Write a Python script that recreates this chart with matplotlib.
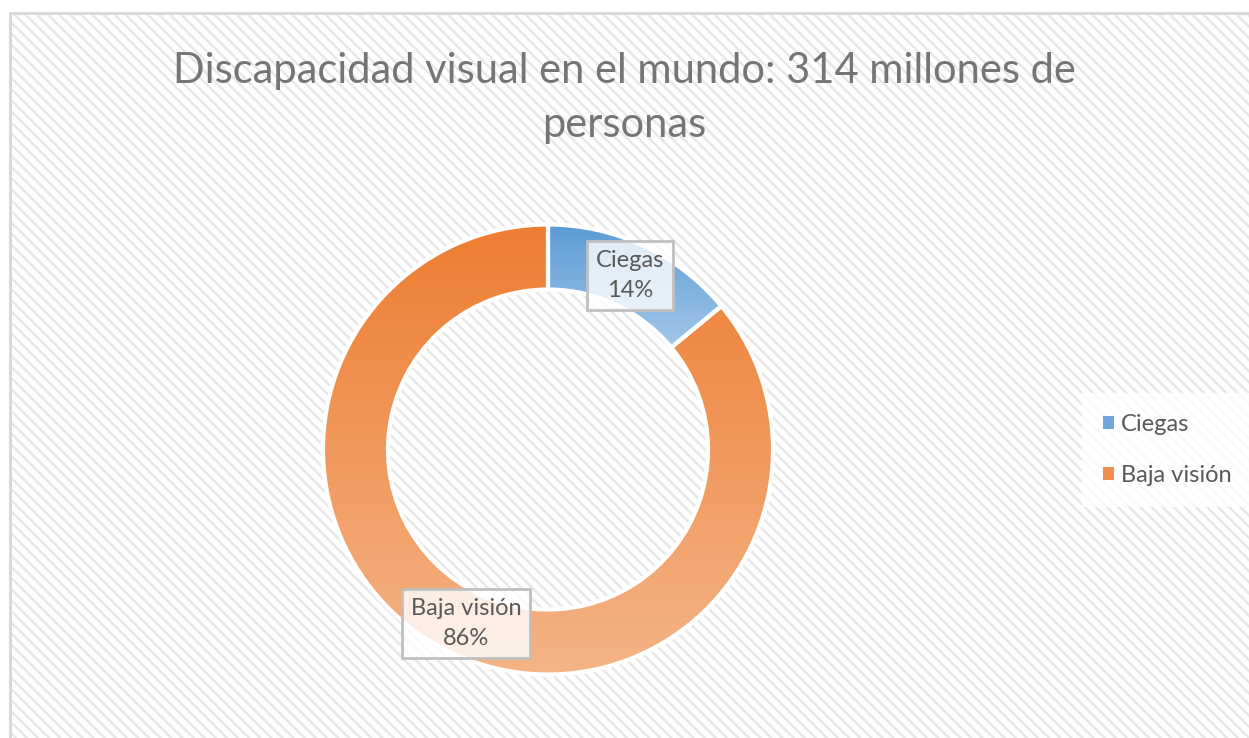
import numpy as np
import matplotlib
matplotlib.use("Agg")
import matplotlib.pyplot as plt
from matplotlib.patches import Rectangle, Patch
from matplotlib.colors import to_rgb

# ---- data ----
categories = ["Ciegas", "Baja visión"]
values = [14, 86]
labels_pct = ["14%", "86%"]
title = "Discapacidad visual en el mundo: 314 millones de\npersonas"

# ---- style ----
top_colors = ["#5B9BD5", "#ED7D31"]
bottom_colors = ["#A3C7E9", "#F5B487"]
legend_colors = ["#6FA6DB", "#F08E4F"]
text_color = "#595959"
font = ["Lato", "DejaVu Sans"]

W, H = 1249, 738
fig = plt.figure(figsize=(W / 100, H / 100), dpi=100)
ax = fig.add_axes([0, 0, 1, 1])

plt.rcParams["hatch.linewidth"] = 1.8
# hatched chart-area background
bg = Rectangle((10, -20), W, H - 13 + 20, facecolor="white", edgecolor="#e8e8e8",
               hatch="\\\\\\", linewidth=0, zorder=0)
ax.add_patch(bg)
border = Rectangle((10, -20), W, H - 13 + 20, facecolor="none", edgecolor="#d9d9d9",
                   linewidth=2.2, zorder=0.5)
ax.add_patch(border)

cx, cy, R, ring = 548, H - 449.5, 225, 65
wedges, _ = ax.pie(values, startangle=90, counterclock=False, center=(cx, cy), radius=R,
                   wedgeprops=dict(width=ring, facecolor="none", edgecolor="white", linewidth=3),
                   frame=True)

for w, ct, cb in zip(wedges, top_colors, bottom_colors):
    w.set_zorder(3)
    ext = w.get_path().get_extents()
    n = 256
    t = np.linspace(0, 1, n)[:, None]
    img = (1 - t) * np.array(to_rgb(ct)) + t * np.array(to_rgb(cb))
    img = img[:, None, :]
    im = ax.imshow(img, extent=(ext.x0, ext.x1, ext.y0, ext.y1), origin="upper",
                   aspect="auto", zorder=2, interpolation="bilinear")
    im.set_clip_path(w)

ax.set_xlim(0, W)
ax.set_ylim(0, H)
ax.set_aspect("equal")
ax.axis("off")

# data labels
r_lab = R - ring / 2
cum = 0
total = sum(values)
for cat, v, pct in zip(categories, values, labels_pct):
    mid = 90 - (cum + v / 2) / total * 360
    cum += v
    x = cx + r_lab * np.cos(np.radians(mid))
    y = cy + r_lab * np.sin(np.radians(mid))
    ax.text(x, y, f"{cat}\n{pct}", ha="center", va="center", fontsize=17,
            color=text_color, family=font, linespacing=1.55, zorder=5,
            bbox=dict(boxstyle="square,pad=0.38", facecolor=(1, 1, 1, 0.8),
                      edgecolor="#bfbfbf", linewidth=2))

fig.text(0.5, 1 - 98 / H, title, ha="center", va="center", fontsize=30,
         color="#757575", family=font, linespacing=1.5)

handles = [Patch(facecolor=c, edgecolor="none") for c in legend_colors]
leg = ax.legend(handles, categories, loc="center left", bbox_to_anchor=(1070 / W, 1 - 450 / H),
                bbox_transform=fig.transFigure, frameon=True,
                handlelength=0.45, handleheight=0.45, handletextpad=0.3, labelspacing=1.25,
                borderpad=0.9, prop=dict(family=font, size=17))
leg.get_frame().set_facecolor((1, 1, 1, 0.7))
leg.get_frame().set_edgecolor("none")
leg.get_frame().set_boxstyle("square,pad=0")
for t in leg.get_texts():
    t.set_color(text_color)

fig.savefig("out.png", dpi=100, facecolor="white")
